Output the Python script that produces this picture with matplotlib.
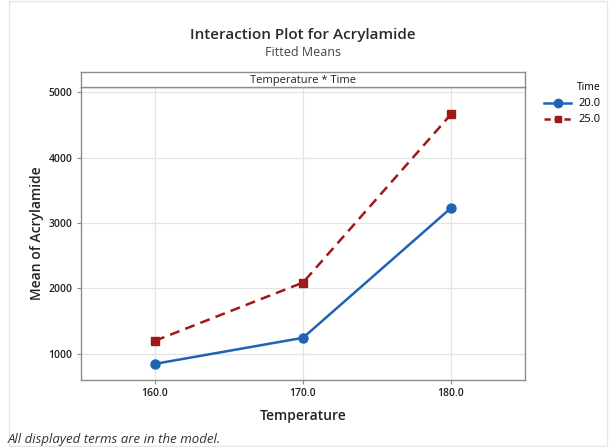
import matplotlib.pyplot as plt
from matplotlib.patches import Rectangle
from matplotlib.lines import Line2D

# data
temperature = [160.0, 170.0, 180.0]
time_levels = ['20.0', '25.0']
mean_20 = [847, 1245, 3230]
mean_25 = [1200, 2090, 4663]
yticks = [1000, 2000, 3000, 4000, 5000]

plt.rcParams['font.family'] = ['Open Sans', 'DejaVu Sans']

W, H = 615, 447
fig = plt.figure(figsize=(6.15, 4.47), dpi=100)

def fx(px):
    return px / W

def fy(py):
    return 1 - py / H

# light frame round the figure
fig.patches.append(Rectangle((fx(9), fy(446)), fx(607 - 9), 446 / H - 0.002,
                             transform=fig.transFigure, fill=False,
                             edgecolor='#e6e6e6', lw=1))

# main axes
ax = fig.add_axes([fx(81), fy(380), fx(525 - 81), (380 - 87) / H])
ax.plot(temperature, mean_20, color='#1f64b4', lw=1.8, marker='o', ms=6.5,
        label=time_levels[0], zorder=3)
ax.plot(temperature, mean_25, color='#a01818', lw=1.8, ls=(0, (4, 2.5)),
        marker='s', ms=5.5, label=time_levels[1], zorder=3)
ax.set_xlim(155, 185)
ax.set_ylim(600, 5080)
ax.set_xticks(temperature)
ax.set_xticklabels(['%.1f' % t for t in temperature], fontsize=7.5,
                   fontweight='semibold')
ax.set_yticks(yticks)
ax.set_yticklabels([str(v) for v in yticks], fontsize=7.5, fontweight='semibold')
ax.grid(True, color='#e4e4e4', lw=0.9)
ax.set_axisbelow(True)
for s in ax.spines.values():
    s.set_color('#8c8c8c')
    s.set_linewidth(1.0)
ax.tick_params(length=3, color='#8c8c8c', pad=3, labelcolor='#222222')
ax.set_xlabel('Temperature', fontsize=10, labelpad=7, color='#222222',
              fontweight='semibold')
ax.set_ylabel('Mean of Acrylamide', fontsize=10, labelpad=3, color='#222222',
              fontweight='semibold')

# panel strip above the plot
strip = fig.add_axes([fx(81), fy(87), fx(525 - 81), (87 - 72) / H])
strip.set_xticks([])
strip.set_yticks([])
for s in strip.spines.values():
    s.set_color('#8c8c8c')
    s.set_linewidth(1.0)
strip.text(0.5, 0.45, 'Temperature * Time', ha='center', va='center',
           fontsize=8, color='#222222', transform=strip.transAxes)

# legend
handles = [Line2D([], [], color='#1f64b4', lw=1.8, marker='o', ms=6),
           Line2D([], [], color='#a01818', lw=1.8, ls=(0, (2.5, 1.5)), marker='s', ms=5)]
leg = fig.legend(handles, time_levels, title='Time', loc='upper left',
                 bbox_to_anchor=(fx(540), fy(78)), frameon=False, fontsize=8,
                 title_fontsize=7.5, handlelength=2.4, labelspacing=0.45,
                 borderaxespad=0, handletextpad=0.7)
leg._legend_box.align = 'right'

fig.text(fx(303), fy(35), 'Interaction Plot for Acrylamide', ha='center',
         va='center', fontsize=11, fontweight='semibold', color='#2a2a2a')
fig.text(fx(303), fy(52), 'Fitted Means', ha='center', va='center',
         fontsize=9, color='#444444')
fig.text(fx(8), fy(439), 'All displayed terms are in the model.', ha='left',
         va='center', fontsize=9.5, style='italic', color='#333333')

fig.savefig('out.png', dpi=100)
